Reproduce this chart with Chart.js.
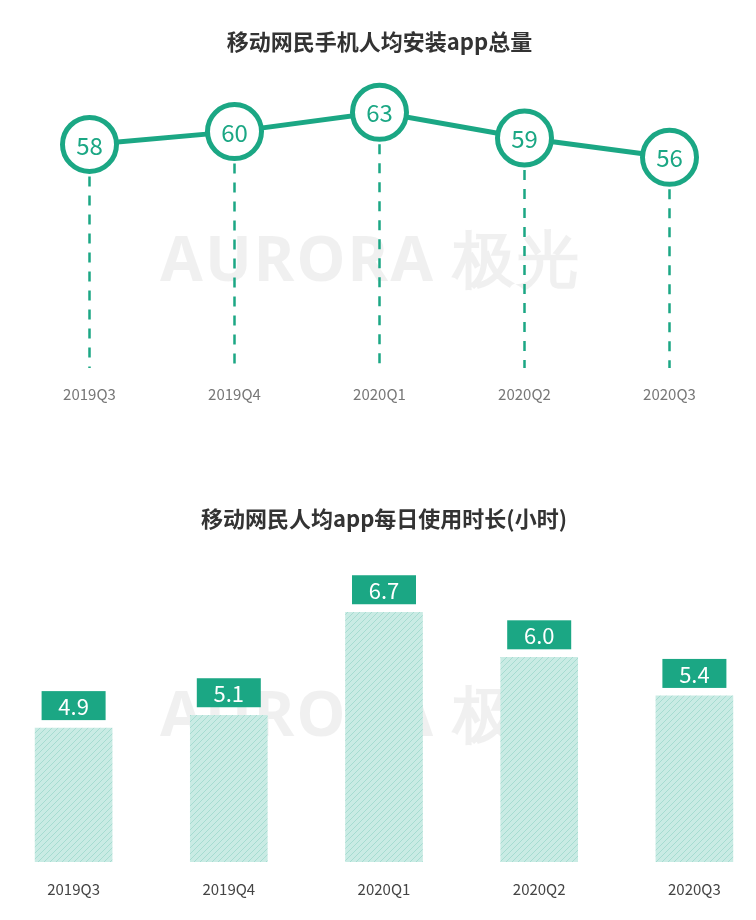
<!DOCTYPE html>
<html><head><meta charset="utf-8">
<script src="https://cdn.jsdelivr.net/npm/chart.js@4"></script>
<style>
body{margin:0;background:#fff;width:756px;height:920px;position:relative;overflow:hidden;font-family:"Noto Sans CJK SC",sans-serif}
.box{position:absolute}
.wm{position:absolute;left:160px;font:bold 62px "Noto Sans",sans-serif;color:rgba(0,0,0,0.06);letter-spacing:2px}
</style></head><body>
<div class="wm" style="top:215px">AURORA 极光</div>
<div class="wm" style="top:670px">AURORA 极光</div>
<div class="box" style="top:0;left:0;width:756px;height:425px"><canvas id="c1"></canvas></div>
<div class="box" style="top:460px;left:-4px;width:776px;height:460px"><canvas id="c2"></canvas></div>
<script>
const quarters = ["2019Q3","2019Q4","2020Q1","2020Q2","2020Q3"];
const appCounts = [58,60,63,59,56];
const dailyHours = [4.9,5.1,6.7,6.0,5.4];
const teal = "#1ba784";
const fam = '"Noto Sans CJK SC","Noto Sans",sans-serif';

const topPlugin = {
  id:'topDeco',
  beforeDatasetsDraw(chart){
    const ctx=chart.ctx, meta=chart.getDatasetMeta(0), b=chart.chartArea.bottom+3;
    ctx.save(); ctx.strokeStyle=teal; ctx.lineWidth=2.5; ctx.setLineDash([10,9]);
    meta.data.forEach(p=>{ctx.beginPath();ctx.moveTo(p.x,p.y+32);ctx.lineTo(p.x,b);ctx.stroke();});
    ctx.restore();
  },
  afterDatasetsDraw(chart){
    const ctx=chart.ctx, meta=chart.getDatasetMeta(0);
    ctx.save(); ctx.fillStyle=teal; ctx.font='24px '+fam; ctx.textAlign='center'; ctx.textBaseline='middle';
    meta.data.forEach((p,i)=>ctx.fillText(appCounts[i],p.x,p.y+1));
    ctx.restore();
  }
};
new Chart(document.getElementById('c1'),{
  type:'line',
  data:{labels:quarters,datasets:[{data:appCounts,borderColor:teal,borderWidth:5,pointRadius:27,pointHoverRadius:27,pointBackgroundColor:'#fff',pointBorderColor:teal,pointBorderWidth:5,tension:0,clip:false}]},
  options:{responsive:true,maintainAspectRatio:false,animation:false,
    layout:{autoPadding:false,padding:{left:17,right:14,bottom:10}},
    plugins:{legend:{display:false},tooltip:{enabled:false},
      title:{display:true,text:'移动网民手机人均安装app总量',color:'#333',font:{family:fam,size:22,weight:'bold'},padding:{top:28,bottom:20}}},
    scales:{
      x:{offset:true,grid:{display:false},border:{display:false},ticks:{color:'#777',font:{family:fam,size:15},padding:12}},
      y:{display:false,min:23.7,max:68.9}
    }},
  plugins:[topPlugin]
});

function makePattern(){
  const c=document.createElement('canvas'); c.width=6;c.height=6;
  const x=c.getContext('2d'); x.fillStyle='#c9ebe4'; x.fillRect(0,0,6,6);
  x.strokeStyle='#a6dcd1'; x.lineWidth=1;
  x.beginPath(); x.moveTo(0,6); x.lineTo(6,0); x.stroke();
  return x.createPattern(c,'repeat');
}
const barPlugin = {
  id:'barLabels',
  afterDatasetsDraw(chart){
    const ctx=chart.ctx, meta=chart.getDatasetMeta(0);
    ctx.save(); ctx.font='22px '+fam; ctx.textAlign='center'; ctx.textBaseline='middle';
    meta.data.forEach((b,i)=>{
      const w=64,h=29,y=b.y-8-h;
      ctx.fillStyle=teal; ctx.fillRect(b.x-w/2,y,w,h);
      ctx.fillStyle='#fff'; ctx.fillText(dailyHours[i].toFixed(1),b.x,y+h/2+1);
    });
    ctx.restore();
  }
};
new Chart(document.getElementById('c2'),{
  type:'bar',
  data:{labels:quarters,datasets:[{data:dailyHours,backgroundColor:makePattern(),barThickness:77}]},
  options:{responsive:true,maintainAspectRatio:false,animation:false,
    layout:{autoPadding:false,padding:{left:0,right:0,bottom:12}},
    plugins:{legend:{display:false},tooltip:{enabled:false},
      title:{display:true,text:'移动网民人均app每日使用时长(小时)',color:'#333',font:{family:fam,size:22,weight:'bold'},padding:{top:45,bottom:30}}},
    scales:{
      x:{grid:{display:false},border:{display:false},ticks:{color:'#444',font:{family:fam,size:15},padding:10}},
      y:{display:false,min:2.82,max:7.49}
    }},
  plugins:[barPlugin]
});
</script></body></html>
